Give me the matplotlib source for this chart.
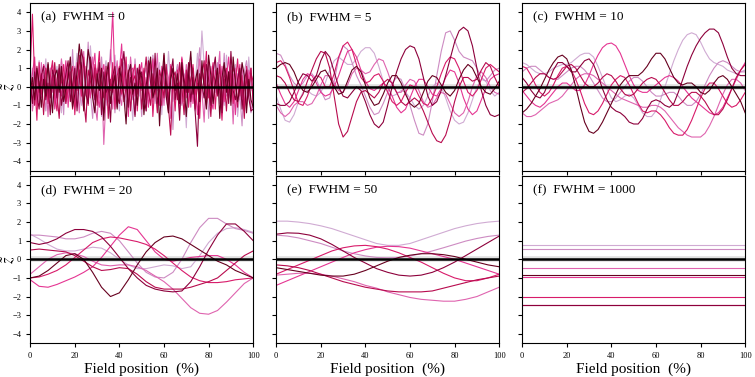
import numpy as np
import matplotlib.pyplot as plt

# -----------------------------
# Data
# -----------------------------

# (a) FWHM = 0  -> 101 nodes per curve
a1 = [0.4, -0.6, 1.2, -0.3, 0.8, -1.1, 0.2, 1.5, -0.4, 0.6,
      -0.9, 0.3, 1.1, -0.2, -1.4, 0.7, 0.1, -0.5, 1.3, -0.8,
      0.5, 1.8, -0.3, -1.0, 0.9, 0.2, -0.7, 2.2, 0.4, -1.2,
      1.0, -0.1, -1.6, 0.6, 1.4, -0.8, 0.3, -0.4, 1.7, 0.0,
      -1.3, 0.8, 0.5, -0.6, 1.2, -0.2, -1.8, 0.4, 1.0, -0.5,
      0.7, -1.1, 0.2, 1.6, -0.3, 0.9, -0.9, 0.1, 1.3, -1.5,
      0.6, -0.4, 1.9, 0.3, -0.8, -0.2, 1.1, -1.2, 0.5, 0.0,
      -2.2, 0.9, 1.4, -0.6, 0.2, 1.8, 0.4, 3.0, 1.2, -0.7,
      0.8, -1.3, 0.3, 1.5, -0.4, 0.6, -0.1, -1.0, 1.7, 0.2,
      -0.8, 0.5, 1.2, -1.6, -0.3, 0.9, 0.1, -0.6, 1.6, -0.2,
      0.4]
a2 = [-0.2, 1.0, 0.3, -0.9, 1.4, -0.5, 0.6, -1.3, 0.1, 0.9,
      1.2, -0.7, -0.2, 0.8, 0.4, -1.5, 1.1, 0.0, -0.6, 2.0,
      -0.4, -1.1, 0.7, 1.3, -0.8, 0.2, 2.4, -0.3, -1.7, 0.5,
      0.9, -0.6, 1.6, -0.2, -1.0, 0.3, 2.0, 0.6, -1.4, 1.1,
      0.4, -0.5, 1.3, -1.2, 0.0, 0.8, -0.7, 1.5, -0.1, 0.2,
      -1.6, 0.6, 1.0, -0.4, -0.9, 1.7, 0.3, -0.2, 0.5, -1.1,
      1.4, -0.7, 0.1, 0.9, -2.3, 0.4, 1.2, -0.5, -1.0, 0.7,
      0.3, -0.8, 1.6, 0.2, -1.3, 0.8, 2.1, -0.1, -0.6, 1.0,
      -1.7, 0.5, 0.9, -0.3, 1.3, -0.9, 0.0, 1.8, -0.5, 0.6,
      1.1, -1.2, 0.2, 0.7, -0.4, -2.1, 0.8, 1.4, 0.3, -1.4,
      -0.6]
a3 = [0.8, -1.3, -0.4, 0.6, -0.8, 1.3, -0.1, 0.4, -1.6, 1.0,
      -0.3, 0.9, -1.1, 0.2, 1.5, 0.5, -0.9, 1.2, -0.2, -0.7,
      1.1, 0.3, -1.4, 0.6, 1.9, -0.5, 0.0, 0.7, 1.6, -0.9,
      -1.8, 0.4, 0.8, -3.1, -0.6, 1.0, 0.2, -1.2, 0.5, 1.4,
      -0.4, -1.0, 0.9, 0.1, -0.7, 1.6, 0.3, -1.5, 0.6, 1.1,
      -0.2, 0.7, -1.3, 0.4, 1.2, -0.8, 0.2, 1.8, -0.6, 0.3,
      -1.0, 1.0, 0.5, -1.7, 0.8, -0.3, 0.6, 1.3, -0.9, -0.4,
      1.2, 0.1, -1.1, 0.7, -0.5, 0.4, 1.5, -0.2, -1.9, 0.9,
      0.3, 1.1, -0.8, -0.1, 0.6, 1.9, -1.4, 0.2, 0.8, -0.6,
      0.5, -2.0, 1.0, 0.3, -0.7, 1.2, -1.1, 0.4, 0.9, -1.3,
      -1.0]
a4 = [-0.5, 0.7, 1.6, -1.0, 0.3, -0.6, 1.2, 0.9, -0.8, -0.1,
      0.6, -1.2, 0.4, 1.0, -0.5, 0.2, 1.4, -1.1, 0.8, 0.0,
      -0.9, 1.3, 0.5, -0.3, -1.2, 1.1, 0.2, -0.6, 0.9, 1.8,
      -0.4, -1.1, 0.6, 1.2, -0.7, 0.3, 1.5, 4.0, 0.2, -0.9,
      0.8, 2.3, -0.2, 0.4, -1.6, 0.9, 1.0, -0.5, 0.1, 0.7,
      1.3, -0.8, 0.5, -1.1, 0.2, 1.5, -0.4, 0.6, -1.0, 1.1,
      0.3, -0.5, -1.4, 1.2, 0.7, -0.2, 0.1, -1.2, 1.6, 0.5,
      -0.6, 0.8, 1.3, -0.9, 0.0, -1.5, 0.6, 1.0, 0.2, -0.4,
      1.4, -0.7, -1.2, 0.9, 0.3, -0.3, 1.1, -0.8, 0.5, 1.6,
      -0.1, 0.7, -1.5, 0.4, 1.2, -0.6, 0.2, -1.0, 0.6, 1.0,
      -0.8]
a5 = [0.9, 3.9, 0.4, -1.8, 1.3, -0.4, 0.1, 1.0, -0.9, 0.5,
      1.4, -0.6, -1.3, 0.7, 0.2, 1.2, -0.8, -0.2, 0.6, 1.1,
      -1.5, 0.3, 0.9, -0.5, 1.6, 0.0, -1.0, 0.8, -0.3, 1.2,
      0.5, 1.9, -0.8, -1.4, 0.4, 0.9, -0.2, 1.3, -1.2, 0.6,
      1.1, -0.4, 0.2, 1.6, -0.9, -0.3, 0.7, 1.2, -1.3, 0.4,
      0.0, 1.0, -0.7, 0.5, 1.4, -1.6, 0.3, 0.8, -0.5, -1.0,
      1.7, 0.2, -0.6, 1.1, 0.4, -1.3, 0.9, -0.1, 1.5, -0.8,
      0.6, -1.1, 0.3, 1.2, -0.4, 0.7, -1.7, 1.0, 0.1, 1.9,
      -0.6, 0.4, 1.3, -1.2, 0.8, -0.2, -1.8, 0.5, 1.0, -0.3,
      0.9, -0.9, 0.2, 1.5, -0.5, 0.6, -1.3, 1.1, 0.0, 0.7,
      0.3]
a6 = [-0.8, 0.2, -1.0, 1.1, -0.3, 0.7, -1.5, 0.5, 1.2, -0.6,
      0.0, 1.3, -0.4, -1.7, 0.8, 0.3, -0.9, 1.0, 0.4, -1.2,
      0.6, -0.2, 1.7, 0.1, -0.7, -1.9, 0.9, 0.3, -0.5, 1.0,
      -1.0, 0.7, 0.2, -0.6, 1.1, -1.7, 0.4, -0.3, 0.8, -1.1,
      0.5, 1.5, -0.8, 0.0, 0.9, -1.3, 0.3, 0.6, -0.4, 1.2,
      -1.2, 0.4, 1.6, -0.3, -1.0, 0.7, 0.1, -1.4, 0.9, 0.3,
      -0.6, 1.2, -1.1, -2.6, 0.5, 0.8, -0.7, 1.3, 0.0, -1.5,
      0.9, -0.3, 0.4, 1.0, -1.2, 0.2, -0.8, 0.6, 1.4, -1.0,
      0.1, -1.6, 0.7, 0.3, -0.5, 1.2, -0.9, 0.4, -1.3, 0.8,
      -0.4, 1.1, 0.5, -1.1, 0.9, 0.2, -1.7, 0.6, -0.5, 1.0,
      -0.9]
a7 = [0.3, -0.9, 0.8, -0.4, -1.2, 0.6, 1.1, -0.7, 0.2, -1.5,
      0.9, 0.4, -0.6, 1.2, -1.0, -0.2, 0.7, 1.4, -0.8, 0.1,
      1.0, -1.3, 0.3, 2.0, 1.2, -0.4, -0.9, 1.6, 0.5, -0.7,
      0.2, 1.3, -1.5, 0.8, -0.3, 0.0, -1.9, 0.6, 1.1, -0.5,
      -0.9, 0.7, 1.9, 0.3, -1.1, 0.5, -0.2, -1.6, 1.0, 0.4,
      0.8, -0.6, -1.3, 1.4, 0.2, -0.5, 1.8, -0.9, -0.2, 0.7,
      1.1, 0.3, -1.0, 0.6, 1.5, -0.7, 0.2, -1.8, 0.9, 0.4,
      -0.3, 1.3, -0.8, 0.5, -1.4, -3.2, 0.7, 0.1, -0.6, 1.2,
      0.4, -1.0, 0.8, 1.6, -0.4, 0.0, -1.4, 1.1, 0.6, -0.9,
      1.9, -0.2, -0.7, 0.4, 1.0, -1.2, 0.3, 0.9, -0.6, -1.3,
      -1.2]
a8 = [-0.3, 0.5, -0.7, 1.0, 0.2, -1.1, 0.4, -0.5, 1.3, 0.0,
      -1.4, 0.6, 0.9, -0.3, 1.1, -0.8, -0.1, 0.5, 1.6, -1.1,
      -0.4, 0.8, 2.3, 1.1, -1.3, 0.5, 2.0, 1.2, -0.6, -1.4,
      0.7, -0.2, 1.0, -1.8, 0.4, 1.3, -0.9, 0.1, 0.6, -1.2,
      1.0, 0.3, -0.5, -2.0, 0.7, 1.2, -0.4, 0.2, -1.0, 0.9,
      0.5, -1.5, 0.1, 0.8, 1.6, -0.6, -0.1, 1.0, -2.1, 0.3,
      1.8, -0.5, -1.4, 0.4, 1.0, -0.2, 0.7, -0.9, 1.3, 0.1,
      -1.6, 0.6, 1.9, -0.4, 0.3, 0.9, -0.8, 1.4, -0.1, -1.2,
      1.7, 0.6, -0.9, 0.2, 1.0, -1.7, 0.5, 1.3, -0.3, 0.8,
      -1.0, 1.6, 0.2, -0.8, -0.1, 1.3, 0.6, -1.4, 0.4, -0.7,
      -1.1]

# (b) FWHM = 5  -> every 2 %
b1 = [-0.5, -1.2, -1.8, -1.9, -1.5, -0.8, -0.3, -0.2, -0.4, -0.5,
      -0.3, 0.2, 0.9, 1.4, 1.6, 1.4, 1.2, 1.2, 1.5, 1.9,
      2.1, 2.1, 1.8, 1.1, 0.3, -0.3, -0.5, -0.4, -0.2, -0.3,
      -0.6, -1.0, -1.2, -1.0, -0.5, 0.0, 0.2, 0.0, -0.6, -1.3,
      -1.8, -2.0, -1.9, -1.4, -0.7, 0.0, 0.4, 0.3, -0.2, -0.5,
      -0.3]
b2 = [1.8, 1.7, 1.2, 0.6, 0.2, 0.0, 0.2, 0.6, 0.7, 0.4,
      -0.2, -0.7, -0.6, 0.3, 1.5, 2.2, 2.0, 1.3, 0.6, 0.1,
      -0.5, -1.1, -1.5, -1.4, -0.9, -0.3, 0.2, 0.5, 0.4, -0.2,
      -1.0, -1.8, -2.5, -2.6, -2.0, -0.8, 0.6, 1.9, 2.9, 3.0,
      2.5, 1.9, 1.6, 1.5, 1.4, 1.0, 0.5, 0.3, 0.6, 0.9,
      1.0]
b3 = [-1.0, -1.4, -1.6, -1.4, -1.0, -0.8, -0.8, -1.0, -0.9, -0.5,
      0.1, 0.6, 0.6, 0.2, -0.2, -0.3, 0.1, 0.7, 1.0, 0.9,
      0.7, 0.8, 1.2, 1.5, 1.4, 0.8, 0.1, -0.3, -0.3, 0.1,
      0.4, 0.3, -0.2, -0.8, -1.1, -1.0, -0.6, -0.3, -0.4, -0.9,
      -1.4, -1.6, -1.4, -0.8, 0.0, 0.6, 0.8, 0.5, 0.0, -0.3,
      -0.4]
b4 = [0.2, -0.4, -0.9, -1.1, -0.8, -0.2, 0.4, 0.7, 0.6, 0.2,
      -0.3, -0.5, -0.4, 0.0, 0.6, 1.3, 1.9, 2.0, 1.6, 0.9,
      0.3, -0.1, -0.2, 0.0, 0.2, 0.0, -0.5, -1.1, -1.4, -1.2,
      -0.6, 0.0, 0.4, 0.4, 0.0, -0.4, -0.5, -0.1, 0.5, 0.9,
      0.8, 0.2, -0.6, -1.2, -1.5, -1.3, -0.7, -0.1, 0.4, 0.6,
      0.7]
b5 = [1.3, 1.4, 1.1, 0.5, -0.2, -0.9, -1.0, -0.5, 0.2, 0.6,
      0.5, 0.0, 0.0, 0.7, 1.6, 2.2, 2.4, 2.0, 1.2, 0.5,
      0.2, 0.3, 0.6, 0.7, 0.3, -0.3, -0.8, -1.0, -0.8, -0.3,
      0.1, 0.0, -0.5, -0.9, -1.0, -0.6, 0.0, 0.7, 1.3, 1.6,
      1.5, 1.0, 0.3, -0.3, -0.5, -0.2, 0.4, 1.0, 1.2, 1.0,
      0.8]
b6 = [0.6, 0.5, 0.2, -0.3, -0.7, -0.8, -0.4, 0.3, 0.9, 1.5,
      1.9, 1.8, 1.0, -0.5, -2.0, -2.7, -2.4, -1.6, -0.8, -0.3,
      -0.2, -0.4, -0.6, -0.3, 0.2, 0.4, 0.2, -0.3, -0.8, -1.0,
      -0.8, -0.6, -0.8, -1.3, -1.9, -2.5, -2.9, -3.0, -2.6, -1.8,
      -0.8, 0.0, 0.5, 0.5, 0.3, 0.4, 0.9, 1.3, 1.1, 0.5,
      0.0]
b7 = [-0.9, -1.0, -1.0, -0.8, -0.3, 0.3, 0.7, 0.6, 0.3, 0.6,
      1.4, 1.9, 1.6, 0.8, 0.0, -0.5, -0.6, -0.3, 0.0, -0.2,
      -0.8, -1.5, -2.0, -2.2, -1.9, -1.0, 0.0, 0.8, 1.5, 2.0,
      2.2, 2.1, 1.5, 0.5, -0.5, -1.0, -0.8, -0.2, 0.6, 1.5,
      2.4, 3.0, 3.2, 3.0, 2.2, 1.0, -0.2, -1.0, -1.5, -1.6,
      -1.5]
b8 = [1.0, 1.2, 1.3, 1.2, 0.8, 0.2, -0.2, -0.3, 0.0, 0.4,
      0.8, 0.9, 0.5, 0.0, -0.4, -0.3, 0.3, 0.9, 1.1, 0.8,
      0.1, -0.6, -1.0, -0.9, -0.4, 0.2, 0.6, 0.6, 0.2, -0.4,
      -0.9, -1.1, -0.9, -0.3, 0.3, 0.6, 0.5, 0.1, -0.3, -0.5,
      -0.2, 0.4, 0.9, 1.2, 1.0, 0.5, 0.0, -0.3, -0.4, -0.1,
      0.3]

# (c) FWHM = 10  -> every 2 %
c1 = [1.3, 1.2, 1.0, 0.8, 0.7, 0.7, 0.8, 1.0, 1.1, 1.2,
      1.2, 1.3, 1.5, 1.7, 1.8, 1.8, 1.6, 1.1, 0.5, -0.1,
      -0.6, -0.8, -0.7, -0.5, -0.4, -0.6, -1.0, -1.4, -1.6, -1.6,
      -1.3, -0.7, 0.0, 0.7, 1.4, 2.0, 2.5, 2.8, 2.9, 2.8,
      2.4, 1.9, 1.5, 1.3, 1.2, 1.1, 0.9, 0.8, 0.7, 0.8,
      0.9]
c2 = [0.8, 1.0, 1.1, 1.1, 0.9, 0.7, 0.5, 0.4, 0.4, 0.6,
      0.8, 1.0, 1.1, 1.1, 0.9, 0.6, 0.2, -0.2, -0.6, -0.8,
      -0.8, -0.6, -0.3, 0.0, 0.3, 0.5, 0.5, 0.3, 0.0, -0.3,
      -0.5, -0.5, -0.4, -0.3, -0.3, -0.5, -0.8, -1.0, -1.0, -0.8,
      -0.4, 0.1, 0.6, 1.0, 1.3, 1.4, 1.3, 1.1, 0.9, 0.8,
      0.8]
c3 = [-1.4, -1.6, -1.6, -1.5, -1.3, -1.1, -0.9, -0.8, -0.7, -0.5,
      -0.2, 0.1, 0.4, 0.6, 0.7, 0.7, 0.6, 0.4, 0.2, 0.0,
      -0.2, -0.4, -0.6, -0.7, -0.8, -0.9, -1.0, -1.1, -1.1, -1.0,
      -1.0, -1.1, -1.3, -1.6, -1.9, -2.2, -2.4, -2.6, -2.7, -2.7,
      -2.7, -2.5, -2.1, -1.6, -1.0, -0.4, 0.1, 0.4, 0.4, 0.2,
      -0.2]
c4 = [-0.2, -0.5, -0.8, -1.0, -1.1, -0.9, -0.6, -0.3, 0.0, 0.2,
      0.2, 0.0, -0.2, -0.2, 0.1, 0.6, 1.2, 1.7, 2.1, 2.3,
      2.35, 2.2, 1.8, 1.2, 0.6, 0.1, -0.2, -0.3, -0.3, -0.1,
      0.1, 0.3, 0.5, 0.6, 0.5, 0.3, 0.0, -0.3, -0.6, -0.8,
      -1.0, -1.2, -1.4, -1.5, -1.4, -1.1, -0.6, -0.1, 0.4, 0.9,
      1.3]
c5 = [1.1, 1.0, 0.6, 0.1, -0.3, -0.5, -0.3, 0.1, 0.6, 1.0,
      1.1, 0.9, 0.4, -0.2, -0.9, -1.4, -1.5, -1.3, -0.9, -0.4,
      0.1, 0.4, 0.6, 0.5, 0.1, -0.4, -0.9, -1.3, -1.4, -1.3,
      -1.3, -1.5, -1.8, -2.2, -2.5, -2.6, -2.6, -2.3, -1.8, -1.2,
      -0.6, -0.1, 0.2, 0.2, -0.1, -0.5, -0.9, -1.1, -1.0, -0.7,
      -0.3]
c6 = [-0.3, -0.1, 0.2, 0.5, 0.7, 0.7, 0.5, 0.4, 0.5, 0.8,
      1.1, 1.2, 1.0, 0.6, 0.2, 0.0, 0.0, 0.2, 0.5, 0.7,
      0.6, 0.3, -0.1, -0.4, -0.5, -0.4, -0.1, 0.2, 0.4, 0.5,
      0.4, 0.1, -0.3, -0.7, -1.0, -1.0, -0.8, -0.5, -0.3, -0.3,
      -0.5, -0.8, -1.2, -1.5, -1.5, -1.2, -0.7, -0.1, 0.5, 0.9,
      1.2]
c7 = [0.5, 0.2, -0.2, -0.5, -0.6, -0.3, 0.3, 0.9, 1.3, 1.3,
      1.1, 0.8, 0.8, 1.1, 1.4, 1.5, 1.2, 0.6, -0.1, -0.7,
      -1.1, -1.3, -1.4, -1.6, -1.9, -2.0, -2.0, -1.7, -1.2, -0.8,
      -0.7, -0.8, -1.0, -1.1, -0.9, -0.3, 0.4, 1.1, 1.7, 2.2,
      2.6, 2.9, 3.1, 3.1, 2.9, 2.3, 1.6, 1.0, 0.7, 0.6,
      0.6]
c8 = [-1.4, -1.2, -0.9, -0.5, -0.1, 0.4, 0.9, 1.3, 1.6, 1.7,
      1.5, 0.9, 0.0, -1.0, -1.9, -2.4, -2.5, -2.3, -1.9, -1.4,
      -0.9, -0.4, 0.1, 0.4, 0.6, 0.6, 0.6, 0.8, 1.1, 1.5,
      1.8, 1.8, 1.5, 1.0, 0.5, 0.2, 0.1, 0.2, 0.2, 0.0,
      -0.3, -0.4, -0.2, 0.2, 0.5, 0.6, 0.4, 0.0, -0.4, -0.8,
      -1.4]

# (d) FWHM = 20  -> every 4 %
d1 = [1.35, 1.1, 0.8, 0.55, 0.45, 0.45, 0.55, 0.65, 0.6, 0.35,
      0.0, -0.3, -0.5, -0.5, -0.4, -0.3, -0.35, -0.5, -0.4, 0.2,
      0.9, 1.4, 1.65, 1.7, 1.6, 1.45]
d2 = [1.3, 1.3, 1.25, 1.2, 1.1, 1.1, 1.2, 1.4, 1.5, 1.4,
      1.0, 0.4, -0.2, -0.7, -0.95, -1.0, -0.7, 0.0, 0.9, 1.7,
      2.2, 2.2, 1.9, 1.65, 1.55, 1.4]
d3 = [-0.8, -0.4, 0.0, 0.25, 0.35, 0.3, 0.15, -0.1, -0.3, -0.35,
      -0.3, -0.3, -0.4, -0.6, -0.9, -1.2, -1.6, -2.1, -2.6, -2.9,
      -2.95, -2.75, -2.3, -1.8, -1.3, -1.0]
d4 = [-1.1, -1.45, -1.5, -1.35, -1.15, -0.95, -0.7, -0.4, 0.1, 0.7,
      1.3, 1.75, 1.6, 1.0, 0.4, 0.0, -0.1, 0.0, 0.1, 0.15,
      0.2, 0.2, 0.0, -0.3, -0.7, -1.0]
d5 = [-1.0, -0.95, -0.8, -0.6, -0.3, 0.1, 0.5, 0.9, 1.1, 1.2,
      1.15, 1.05, 0.95, 0.8, 0.55, 0.2, -0.2, -0.6, -0.95, -1.15,
      -1.25, -1.25, -1.2, -1.1, -1.05, -1.0]
d6 = [0.5, 0.55, 0.5, 0.45, 0.4, 0.2, -0.1, -0.4, -0.6, -0.55,
      -0.45, -0.5, -0.8, -1.2, -1.5, -1.6, -1.6, -1.6, -1.5, -1.35,
      -1.2, -1.0, -0.6, -0.2, 0.2, 0.45]
d7 = [0.9, 0.8, 0.9, 1.1, 1.4, 1.6, 1.6, 1.5, 1.2, 0.7,
      0.1, -0.5, -1.0, -1.4, -1.6, -1.7, -1.75, -1.7, -1.2, -0.4,
      0.5, 1.3, 1.9, 1.9, 1.5, 1.0]
d8 = [-1.0, -0.9, -0.6, -0.2, 0.2, 0.3, 0.0, -0.7, -1.5, -2.0,
      -1.8, -1.1, -0.3, 0.4, 0.9, 1.2, 1.25, 1.1, 0.8, 0.5,
      0.2, -0.1, -0.3, -0.6, -0.8, -1.0]

# (e) FWHM = 50  -> every 5 %
e1 = [2.05, 2.05, 2.0, 1.92, 1.8, 1.65, 1.45, 1.25, 1.05, 0.85,
      0.75, 0.75, 0.85, 1.05, 1.25, 1.45, 1.65, 1.8, 1.92, 2.0, 2.05]
e2 = [1.3, 1.25, 1.15, 1.0, 0.85, 0.65, 0.45, 0.3, 0.18, 0.1,
      0.08, 0.1, 0.18, 0.3, 0.45, 0.62, 0.8, 0.98, 1.12, 1.23, 1.3]
e3 = [-0.85, -0.8, -0.75, -0.75, -0.8, -0.9, -1.05, -1.2, -1.4, -1.55,
      -1.75, -1.9, -2.05, -2.15, -2.2, -2.25, -2.25, -2.15, -2.0, -1.75, -1.5]
e4 = [-1.4, -1.15, -0.9, -0.65, -0.4, -0.15, 0.1, 0.35, 0.52, 0.65,
      0.7, 0.68, 0.6, 0.45, 0.3, 0.15, 0.0, -0.2, -0.4, -0.6, -0.8]
e5 = [-0.8, -0.55, -0.3, -0.05, 0.2, 0.45, 0.62, 0.72, 0.75, 0.68,
      0.55, 0.35, 0.1, -0.15, -0.45, -0.75, -1.0, -1.15, -1.15, -1.0, -0.8]
e6 = [-0.3, -0.35, -0.45, -0.6, -0.8, -1.0, -1.2, -1.35, -1.5, -1.6,
      -1.7, -1.75, -1.75, -1.75, -1.7, -1.55, -1.4, -1.25, -1.1, -1.0, -0.9]
e7 = [1.35, 1.42, 1.4, 1.3, 1.1, 0.8, 0.45, 0.1, -0.2, -0.5,
      -0.7, -0.85, -0.9, -0.85, -0.7, -0.45, -0.15, 0.2, 0.55, 0.9, 1.25]
e8 = [-0.45, -0.55, -0.65, -0.75, -0.85, -0.9, -0.9, -0.8, -0.6, -0.35,
      -0.1, 0.1, 0.22, 0.3, 0.3, 0.25, 0.15, 0.0, -0.15, -0.3, -0.4]

# (f) FWHM = 1000  -> flat fields
f_levels = [0.77, 0.57, -0.48, -0.96, -2.02, -2.45, -2.47, -0.86]

panels = [
    ("(a)  FWHM = 0", [a1, a2, a3, a4, a5, a6, a7, a8]),
    ("(b)  FWHM = 5", [b1, b2, b3, b4, b5, b6, b7, b8]),
    ("(c)  FWHM = 10", [c1, c2, c3, c4, c5, c6, c7, c8]),
    ("(d)  FWHM = 20", [d1, d2, d3, d4, d5, d6, d7, d8]),
    ("(e)  FWHM = 50", [e1, e2, e3, e4, e5, e6, e7, e8]),
    ("(f)  FWHM = 1000", [[v, v] for v in f_levels]),
]

# -----------------------------
# Plot
# -----------------------------
plt.rcParams["font.family"] = ["Liberation Serif", "DejaVu Serif"]
plt.rcParams["mathtext.fontset"] = "stix"

colors = plt.cm.PuRd(np.linspace(0.3, 1.0, 8))

fig, axs = plt.subplots(2, 3, figsize=(7.55, 3.77), dpi=100, sharex=True, sharey=True)
plt.subplots_adjust(left=0.040, right=0.987, top=0.992, bottom=0.090,
                    wspace=0.103, hspace=0.03)

for ax, (label, curves) in zip(axs.flat, panels):
    for curve, c in zip(curves, colors):
        x = np.linspace(0, 100, len(curve))
        ax.plot(x, curve, color=c, lw=0.8)
    ax.axhline(0, color="0.88", lw=4, zorder=0)
    ax.axhline(0, color="k", lw=1.8)
    ax.text(0.048, 0.915, label, transform=ax.transAxes, fontsize=9.5, va="center")
    ax.set_xlim(0, 100)
    ax.set_ylim(-4.5, 4.5)
    ax.set_xticks([0, 20, 40, 60, 80, 100])
    ax.set_yticks([-4, -3, -2, -1, 0, 1, 2, 3, 4])
    ax.tick_params(labelsize=6, length=3, width=0.8, direction="out")

for ax in axs[1]:
    ax.set_xlabel("Field position  (%)", fontsize=11, labelpad=2)
for ax in axs[:, 0]:
    ax.set_ylabel(r"$\tilde{z}$", fontsize=12)
    ax.yaxis.set_label_coords(-0.056, 0.5)

plt.savefig("out.png", dpi=100)
